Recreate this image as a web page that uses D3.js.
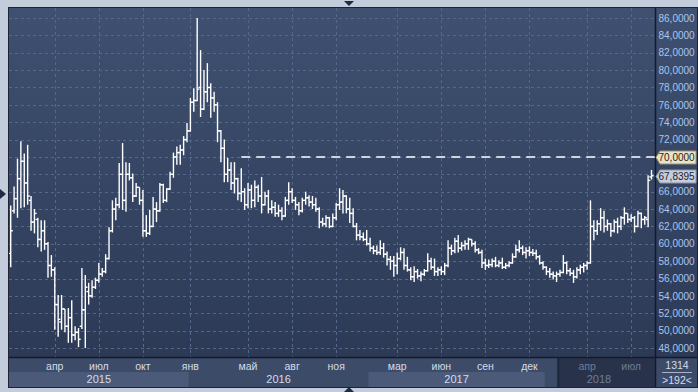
<!DOCTYPE html>
<html><head><meta charset="utf-8">
<script src="https://cdn.jsdelivr.net/npm/d3@7/dist/d3.min.js"></script>
<style>html,body{margin:0;padding:0;background:#c3ccda;overflow:hidden}svg{display:block}</style>
</head><body><svg id="c" width="698" height="392"></svg>
<script>
// ---- DATA (weekly OHLC) ----
const opens = [58.9,63.8,65.2,67.5,69.5,67.0,65.0,62.5,62.8,60.5,61.5,60.0,57.5,57.0,53.0,51.0,52.5,50.5,51.5,49.5,49.8,50.5,52.4,54.5,54.0,55.0,55.8,56.5,56.8,58.3,61.5,64.0,64.5,68.0,65.0,68.0,67.6,65.5,66.5,65.0,61.5,61.2,62.0,64.0,63.8,66.8,65.0,66.3,68.0,70.0,70.5,70.8,72.0,73.0,76.3,76.5,78.0,75.5,77.5,78.0,76.8,76.0,73.0,71.0,68.0,68.5,67.0,67.5,65.8,66.0,64.5,66.2,65.0,66.5,65.5,64.5,65.5,64.0,64.2,63.5,63.8,63.2,65.0,66.0,65.0,64.5,63.8,65.0,65.3,64.8,64.5,64.0,62.5,62.3,63.0,62.0,63.0,64.5,64.8,65.5,64.0,63.5,62.0,61.0,60.8,60.5,60.0,59.5,59.2,59.0,59.5,58.8,58.2,58.0,57.5,58.3,59.0,57.5,57.0,56.2,56.8,56.3,56.5,56.9,58.0,57.3,56.8,57.0,56.8,57.5,59.5,59.2,60.3,59.5,59.8,60.0,60.5,60.0,59.3,59.0,57.8,57.5,57.6,58.0,57.5,57.8,57.3,57.5,57.8,58.5,59.3,59.5,59.0,59.2,59.0,58.9,58.5,57.8,57.3,56.8,56.5,56.3,56.5,56.7,57.8,56.9,56.6,56.2,57.0,57.3,57.5,57.8,62.0,61.5,62.3,63.0,62.0,62.3,61.5,62.5,62.0,63.0,63.5,62.8,63.0,62.0,63.5,62.8,62.8,67.7];
const highs = [64.4,66.6,69.8,71.8,70.4,71.4,65.5,64.0,63.0,62.7,62.7,60.2,58.7,57.3,54.1,54.1,52.5,52.6,53.5,50.5,50.3,57.2,56.4,55.5,55.8,56.1,57.8,57.2,58.8,61.9,65.0,65.3,69.3,71.6,69.4,69.3,68.1,67.0,66.5,66.2,63.3,63.9,65.4,64.8,67.0,66.9,66.4,68.3,70.5,71.2,71.4,72.4,73.9,76.8,77.9,86.0,82.3,80.0,80.8,78.5,77.5,76.3,73.1,72.0,69.9,69.4,69.4,67.6,68.7,66.4,67.0,66.8,67.3,66.8,67.7,66.0,66.2,65.0,64.8,64.5,64.2,65.4,67.1,66.4,65.4,64.8,65.3,66.0,65.6,65.5,65.3,64.2,63.0,63.3,63.1,63.5,64.7,66.4,66.2,65.6,65.3,64.1,62.4,61.6,61.3,61.6,60.7,59.8,59.8,60.4,60.1,59.1,58.6,58.6,59.0,59.6,59.5,58.5,57.3,57.4,57.1,56.8,57.1,58.9,58.4,58.3,57.3,57.4,57.8,60.4,59.9,60.7,61.0,60.2,60.4,60.7,60.5,60.3,59.5,59.3,58.3,58.2,58.3,58.5,58.1,58.4,57.8,58.0,58.9,59.9,60.4,59.8,59.6,59.7,59.4,59.3,58.7,58.0,57.4,57.2,56.8,56.8,57.0,58.7,58.0,57.2,57.0,57.3,57.6,57.8,58.0,65.0,62.7,62.7,64.1,63.8,62.8,62.4,62.8,63.0,63.2,64.2,63.5,63.4,63.2,63.8,63.6,63.2,67.9,68.5];
const lows = [57.3,63.5,63.0,64.1,64.2,64.5,61.5,61.2,59.6,59.1,59.3,56.1,56.2,50.1,49.3,50.1,49.8,48.6,48.6,48.9,48.1,50.2,48.0,53.0,53.8,54.8,55.5,56.2,56.6,58.2,61.3,62.7,64.1,63.9,63.7,67.3,64.8,65.4,64.5,60.8,60.8,61.0,61.9,62.5,63.7,64.7,64.8,66.2,67.6,69.1,69.1,70.2,71.7,72.9,75.2,76.4,74.6,75.4,76.3,74.5,75.2,71.7,69.4,67.1,67.1,66.2,65.8,65.0,64.8,63.9,64.1,64.1,64.2,64.8,63.5,64.4,63.5,63.5,63.1,63.1,62.7,63.1,64.5,64.7,63.9,63.3,63.6,64.5,64.3,64.0,63.7,61.8,62.0,61.9,61.8,61.9,62.7,63.9,63.5,63.5,62.4,61.9,60.4,60.4,60.3,59.8,59.1,58.8,58.7,58.7,58.4,57.5,57.0,56.2,56.5,58.1,57.0,56.8,55.8,55.6,56.0,55.7,56.3,56.8,57.0,56.3,56.3,56.4,56.4,57.3,58.7,58.9,59.0,59.2,59.3,59.3,59.7,59.0,58.8,57.2,57.0,57.2,57.3,57.3,57.3,57.1,57.1,57.3,57.7,58.4,59.0,58.7,58.3,58.6,58.6,58.2,57.6,57.0,56.4,56.1,55.9,55.6,56.2,56.6,56.5,56.3,55.5,56.0,56.5,56.7,57.0,57.7,60.4,61.0,61.5,61.3,61.5,60.8,61.3,61.2,61.6,62.2,62.4,62.5,61.3,61.9,61.8,62.2,61.9,67.4];
const closes = [61.5,65.2,67.5,69.5,67.0,65.5,62.5,63.5,60.5,61.5,60.0,57.5,57.0,53.0,51.3,52.5,50.5,51.5,49.5,49.8,49.0,52.4,55.0,54.0,55.0,55.8,56.5,56.8,58.3,61.5,64.0,64.5,68.0,65.0,68.0,67.6,65.5,66.5,65.0,61.5,61.2,62.0,64.0,63.8,66.8,65.0,66.3,68.0,70.0,70.5,70.8,72.0,73.0,76.3,76.5,77.8,75.5,77.5,78.0,76.8,76.0,73.0,71.0,68.0,68.5,67.0,67.5,65.8,66.0,64.5,66.2,65.0,66.5,65.5,64.5,65.5,64.0,64.2,63.5,63.8,63.2,65.0,66.0,65.0,64.5,63.8,65.0,65.3,64.8,64.5,64.0,62.5,62.3,63.0,62.0,63.0,64.5,64.8,65.5,64.0,63.5,62.0,61.0,60.8,60.5,60.0,59.5,59.2,59.0,59.5,58.8,58.2,58.0,57.5,58.3,59.0,57.5,57.0,56.2,56.8,56.3,56.5,56.9,58.0,57.3,56.8,57.0,56.8,57.5,59.5,59.2,60.3,59.5,59.8,60.0,60.5,60.0,59.3,59.0,57.8,57.5,57.6,58.0,57.5,57.8,57.3,57.5,57.8,58.5,59.3,59.5,59.0,59.2,59.0,58.9,58.5,57.8,57.3,56.8,56.5,56.3,56.5,56.7,57.8,56.9,56.6,56.2,57.0,57.3,57.5,57.8,62.0,61.5,62.3,63.0,62.0,62.3,61.5,62.5,62.0,63.0,63.5,62.8,63.0,62.0,63.5,62.8,63.0,67.3,67.8395];

const yTicks = [48,50,52,54,56,58,60,62,64,66,68,70,72,74,76,78,80,82,84,86];
const monthLabels = ["апр","июл","окт","янв","май","авг","ноя","мар","июн","сен","дек","апр","июл"];
const monthIdx = [13,26,39,53,70,83,96,114,127,140,153,170,183];
const yearLabels = ["2015","2016","2017","2018"];
const yearStart = [0,53,106,158];
const yearEnd = [52,105,157,189];
const shadeStartIdx = 162;          // darker (current-view) part of time axis
const refLevel = 70, refStartIdx = 68; // dashed reference level
const lastPrice = 67.8395;
const barsCount = "1314", visibleCount = ">192<";

// ---- LAYOUT ----
const svg = d3.select("#c");
const P = {l: 9, r: 655, t: 8, b: 357, axisR: 697, bottom: 387};
const x = d3.scaleLinear().domain([0, opens.length - 1]).range([10.7, 651.5]);
const y = d3.scaleLinear().domain([48, 86]).range([348, 18]);
const step = x(1) - x(0);
const FONT = "'Liberation Sans', Arial, sans-serif";
const fmt = d => d.toFixed(4).replace(".", ",");

const defs = svg.append("defs");
const g1 = defs.append("linearGradient").attr("id","bg").attr("x1",0).attr("y1",0).attr("x2",0).attr("y2",1);
g1.append("stop").attr("offset","0%").attr("stop-color","#3f5070");
g1.append("stop").attr("offset","100%").attr("stop-color","#2c3a56");
defs.append("clipPath").attr("id","clip").append("rect")
  .attr("x",P.l).attr("y",P.t).attr("width",P.r-P.l).attr("height",P.b-P.t);

// frame
svg.append("rect").attr("width",698).attr("height",392).attr("fill","#c3ccda");
svg.append("rect").attr("x",P.l-1).attr("y",P.t-1).attr("width",P.axisR-P.l+2).attr("height",P.bottom-P.t+2).attr("fill","#1b2334");
svg.append("rect").attr("x",P.l).attr("y",P.t).attr("width",P.r-P.l).attr("height",P.b-P.t).attr("fill","url(#bg)");
svg.append("rect").attr("x",P.r+1).attr("y",P.t).attr("width",P.axisR-P.r-1).attr("height",P.b-P.t).attr("fill","url(#bg)");
// time axis strip
svg.append("rect").attr("x",P.l).attr("y",P.b+1).attr("width",P.r-P.l).attr("height",P.bottom-P.b-1).attr("fill","#3c4b68");
svg.append("rect").attr("x",P.r+1).attr("y",P.b+1).attr("width",P.axisR-P.r-1).attr("height",P.bottom-P.b-1).attr("fill","#3c4b68");

// year bands
const yearRowY = 372;
yearLabels.forEach((lab, k) => {
  const x0 = Math.max(P.l, x(yearStart[k]) - step/2), x1 = Math.min(P.r, x(yearEnd[k]) + step/2);
  if (k % 2 === 0) svg.append("rect").attr("x",x0).attr("y",yearRowY).attr("width",x1-x0).attr("height",P.bottom-yearRowY).attr("fill","#4b5a78");
});
// shaded current part
const sx = x(shadeStartIdx) - step/2;
svg.append("rect").attr("x",sx).attr("y",P.b+1).attr("width",P.r-sx).attr("height",P.bottom-P.b-1).attr("fill","#28334b");
svg.append("rect").attr("x",sx-1).attr("y",P.b+1).attr("width",2).attr("height",P.bottom-P.b-1).attr("fill","#1d2638");

// grid
const grid = svg.append("g").attr("clip-path","url(#clip)").attr("stroke","#55678a").attr("stroke-width",1).attr("stroke-dasharray","3,3");
grid.selectAll("line.h").data(yTicks).join("line").attr("class","h")
  .attr("x1",P.l).attr("x2",P.r).attr("y1",d=>Math.round(y(d))+0.5).attr("y2",d=>Math.round(y(d))+0.5);
grid.selectAll("line.v").data(monthIdx).join("line").attr("class","v")
  .attr("y1",P.t).attr("y2",P.b).attr("x1",d=>Math.round(x(d))+0.5).attr("x2",d=>Math.round(x(d))+0.5);

// dashed reference level
svg.append("line").attr("x1",x(refStartIdx)).attr("x2",P.r).attr("y1",y(refLevel)).attr("y2",y(refLevel))
  .attr("stroke","#ffffff").attr("stroke-width",1.5).attr("stroke-dasharray","9,6");

// OHLC bars
const bars = svg.append("g").attr("clip-path","url(#clip)").attr("stroke","#ffffff").attr("stroke-width",1.4);
const idx = d3.range(opens.length);
bars.selectAll("line.hl").data(idx).join("line").attr("class","hl")
  .attr("x1",i=>x(i)).attr("x2",i=>x(i)).attr("y1",i=>y(highs[i])).attr("y2",i=>y(lows[i]));
bars.selectAll("line.o").data(idx).join("line").attr("class","o")
  .attr("x1",i=>x(i)-2.2).attr("x2",i=>x(i)).attr("y1",i=>y(opens[i])).attr("y2",i=>y(opens[i]));
bars.selectAll("line.c").data(idx).join("line").attr("class","c")
  .attr("x1",i=>x(i)).attr("x2",i=>x(i)+2.2).attr("y1",i=>y(closes[i])).attr("y2",i=>y(closes[i]));

// borders
svg.append("line").attr("x1",P.r+0.5).attr("x2",P.r+0.5).attr("y1",P.t).attr("y2",P.bottom).attr("stroke","#141b28").attr("stroke-width",1.5);
svg.append("line").attr("x1",P.l).attr("x2",P.axisR).attr("y1",P.b+0.5).attr("y2",P.b+0.5).attr("stroke","#141b28").attr("stroke-width",1.5);

// right axis (labels hidden where the price tags sit)
const tagged = [refLevel, lastPrice];
const shownTicks = yTicks.filter(t => tagged.every(v => Math.abs(y(t) - y(v)) > 9));
const axis = d3.axisRight(y).tickValues(shownTicks).tickSize(0).tickPadding(2.5).tickFormat(fmt);
const ag = svg.append("g").attr("transform",`translate(${P.r+1},0)`).call(axis);
ag.select(".domain").remove();
ag.selectAll("text").attr("fill","#a9c6ee").attr("font-family",FONT).attr("font-size","10px");

// highlighted labels
function tag(v, fill, stroke) {
  const yy = Math.round(y(v)) + 0.5;
  svg.append("path").attr("d",`M${P.r+1},${yy} L${P.r+5},${yy-6.5} L${P.axisR-1},${yy-6.5} L${P.axisR-1},${yy+6.5} L${P.r+5},${yy+6.5} Z`)
    .attr("fill",fill).attr("stroke",stroke).attr("stroke-width",1);
  svg.append("text").attr("x",P.r+3.5).attr("y",yy).attr("dy","0.35em").attr("fill","#1e1e1e")
    .attr("font-family",FONT).attr("font-size","10px").text(fmt(v));
}
tag(refLevel, "#ebe3c5", "#9a9276");
tag(lastPrice, "#c6cedd", "#8b95a8");

// time axis labels
const monthRowY = 366, yearTextY = 379.5;
monthLabels.forEach((m, k) => {
  const dim = monthIdx[k] >= shadeStartIdx;
  svg.append("text").attr("x",x(monthIdx[k])).attr("y",monthRowY).attr("dy","0.35em").attr("text-anchor","middle")
    .attr("fill", dim ? "#6f7c95" : "#d4dcec").attr("font-family",FONT).attr("font-size","10.5px").text(m);
});
yearLabels.forEach((lab, k) => {
  const cx = (Math.max(P.l, x(yearStart[k]) - step/2) + Math.min(P.r, x(yearEnd[k]) + step/2)) / 2;
  const dim = yearStart[k] >= shadeStartIdx - 5;
  svg.append("text").attr("x",cx).attr("y",yearTextY).attr("dy","0.35em").attr("text-anchor","middle")
    .attr("fill", dim ? "#6f7c95" : "#d4dcec").attr("font-family",FONT).attr("font-size","11px").text(lab);
});
// bottom-right counters
const cxr = (P.r + P.axisR) / 2 + 1;
svg.append("text").attr("x",cxr).attr("y",365).attr("dy","0.35em").attr("text-anchor","middle").attr("fill","#d4dcec")
  .attr("font-family",FONT).attr("font-size","10.5px").text(barsCount);
svg.append("line").attr("x1",P.r+7).attr("x2",P.axisR-5).attr("y1",372.5).attr("y2",372.5).attr("stroke","#aab4c8").attr("stroke-width",1);
svg.append("text").attr("x",cxr).attr("y",380).attr("dy","0.35em").attr("text-anchor","middle").attr("fill","#d4dcec")
  .attr("font-family",FONT).attr("font-size","10.5px").text(visibleCount);

// markers
svg.append("path").attr("d","M0,189 L6,194 L0,199 Z").attr("fill","#1f2b42");
svg.append("path").attr("d","M344,1 L354,1 L349,6 Z").attr("fill","#1f2b42");
svg.append("path").attr("d","M344,392 L354,392 L349,387 Z").attr("fill","#1f2b42");
</script>
</body></html>
